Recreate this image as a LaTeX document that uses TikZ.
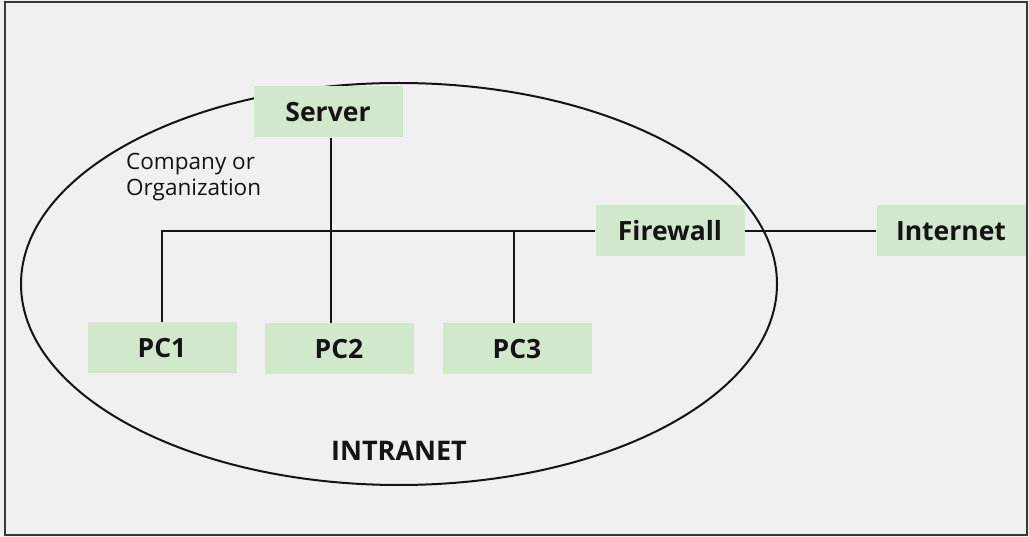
\documentclass[tikz,border=0pt]{standalone}
\usepackage{fontspec}
\setmainfont{Open Sans}
\definecolor{bg}{RGB}{240,240,240}
\definecolor{boxgreen}{RGB}{210,232,204}
\definecolor{ink}{RGB}{20,20,20}
\begin{document}
\begin{tikzpicture}[x=1pt,y=-1pt,
  unit/.style={fill=boxgreen,draw=none,minimum width=149pt,minimum height=51pt,
    inner sep=0pt,font=\fontsize{26.5}{30}\selectfont\bfseries,text=ink},
  wire/.style={draw=ink,line width=1.6pt}]
  % canvas and frame
  \fill[bg] (0,0) rectangle (1029,537);
  \useasboundingbox (0,0) rectangle (1029,537);
  \draw[draw=ink!85,line width=2.5pt] (5,2) rectangle (1027,535);

  % intranet boundary
  \draw[ink,line width=2pt] (399,284) ellipse [x radius=378, y radius=201];

  % devices
  \node[unit] (srv)  at (328,112) {Server};
  \node[unit] (fw)   at (670,231) {Firewall};
  \node[unit] (inet) at (951,231) {Internet};
  \node[unit] (pc1)  at (162,348) {PC1};
  \node[unit] (pc2)  at (339,349) {PC2};
  \node[unit] (pc3)  at (517,349) {PC3};

  % labels
  \node[anchor=north west,align=left,inner sep=0pt,text=ink,
        font=\fontsize{22.5}{26}\selectfont] (org) at (126,153) {Company or\\Organization};
  \node[text=ink,font=\fontsize{27}{30}\selectfont\bfseries] (lbl) at (399,451) {INTRANET};

  % cabling
  \coordinate (drop2) at ([xshift=3pt]srv.south);
  \draw[wire] (pc1.north) |- (fw.west);
  \draw[wire] (drop2) -- (drop2 |- pc2.north);
  \draw[wire] ([xshift=-3pt]pc3.north) -- ([xshift=-3pt]pc3.north |- fw.west);
  \draw[wire] (fw.east) -- (inet.west);
\end{tikzpicture}
\end{document}
